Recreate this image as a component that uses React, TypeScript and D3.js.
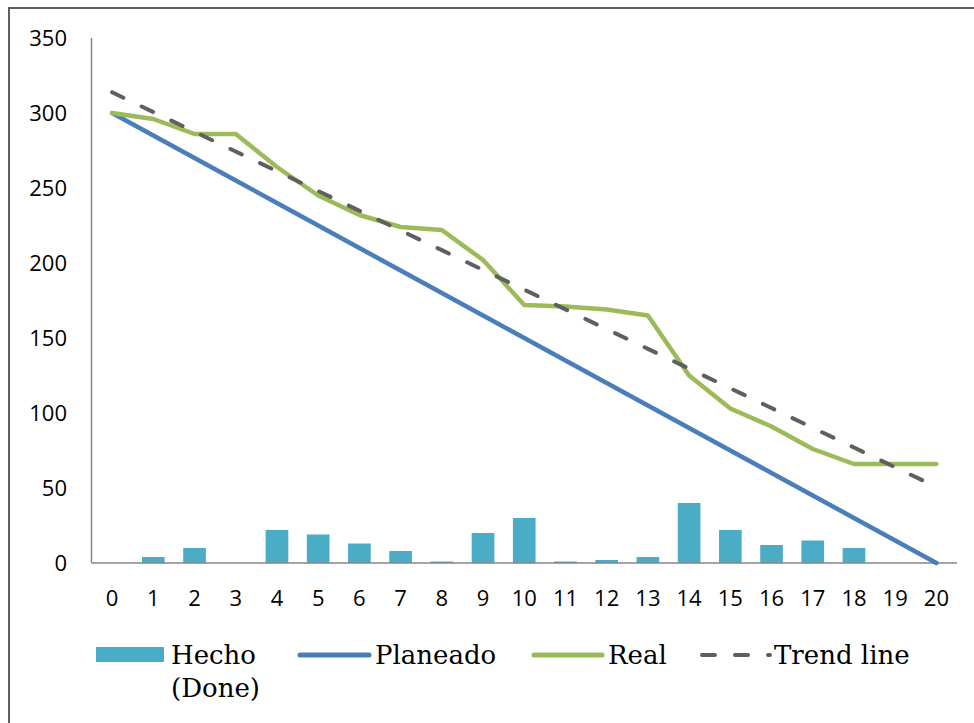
import React from "react";
import * as d3 from "d3";

const categories = ["0","1","2","3","4","5","6","7","8","9","10","11","12","13","14","15","16","17","18","19","20"];
const hecho = [0, 4, 10, 0, 22, 19, 13, 8, 1, 20, 30, 1, 2, 4, 40, 22, 12, 15, 10, 0, 0];
const planeado = [300, 285, 270, 255, 240, 225, 210, 195, 180, 165, 150, 135, 120, 105, 90, 75, 60, 45, 30, 15, 0];
const real = [300, 296, 286, 286, 264, 245, 232, 224, 222, 202, 172, 171, 169, 165, 125, 103, 91, 76, 66, 66, 66];
const yTicks = [0, 50, 100, 150, 200, 250, 300, 350];
const legendLabels = ["Hecho", "(Done)", "Planeado", "Real", "Trend line"];

// Linear least-squares trend of the "Real" series (as Excel's linear trendline)
function trend(values: number[]): number[] {
  const n = values.length;
  const xs = values.map((_, i) => i);
  const mx = d3.mean(xs)!;
  const my = d3.mean(values)!;
  let sxy = 0, sxx = 0;
  for (let i = 0; i < n; i++) {
    sxy += (xs[i] - mx) * (values[i] - my);
    sxx += (xs[i] - mx) ** 2;
  }
  const b = sxy / sxx;
  const a = my - b * mx;
  return xs.map((x) => a + b * x);
}

const W = 974, H = 723;
const left = 91.5, right = 957, top = 38, bottom = 563;

export default function App() {
  const x = d3.scaleBand<string>().domain(categories).range([left, right]).paddingInner(0.45).paddingOuter(0.225);
  const xp = d3.scalePoint<string>().domain(categories).range([left + (right - left) / 42, right - (right - left) / 42]);
  const y = d3.scaleLinear().domain([0, 350]).range([bottom, top]);
  const trendVals = trend(real);

  const line = (vals: number[]) =>
    d3.line<number>().x((_, i) => xp(categories[i])!).y((v) => y(v))(vals)!;

  const sans = "'Open Sans', 'Liberation Sans', sans-serif";
  const serif = "'DejaVu Serif', serif";

  return (
    <svg width={W} height={H} style={{ position: "absolute", left: 0, top: 0, background: "#fff" }}>
      <rect x={9} y={8} width={W + 20} height={H + 20} fill="#fff" stroke="#5f5f5f" strokeWidth={2} />
      {/* bars */}
      {hecho.map((v, i) =>
        v > 0 ? (
          <rect key={i} x={x(categories[i])!} y={y(v)} width={x.bandwidth()} height={y(0) - y(v)} fill="#4BACC6" />
        ) : null
      )}
      {/* axes */}
      <line x1={left} x2={left} y1={top} y2={bottom} stroke="#868686" strokeWidth={1.5} />
      <line x1={left} x2={right} y1={bottom} y2={bottom} stroke="#868686" strokeWidth={1.5} />
      {yTicks.map((t) => (
        <text key={t} x={67} y={y(t) + 8} textAnchor="end" fontFamily={sans} fontSize={22} fill="#000">
          {t}
        </text>
      ))}
      {categories.map((c) => (
        <text key={c} x={xp(c)!} y={606} textAnchor="middle" fontFamily={sans} fontSize={22} fill="#000">
          {c}
        </text>
      ))}
      {/* lines */}
      <path d={line(planeado)} fill="none" stroke="#4A7EBB" strokeWidth={4.5} strokeLinecap="round" strokeLinejoin="round" />
      <path d={line(real)} fill="none" stroke="#9BBB59" strokeWidth={4.5} strokeLinecap="round" strokeLinejoin="round" />
      <path d={line(trendVals)} fill="none" stroke="#5F5F5F" strokeWidth={4} strokeLinecap="round" strokeDasharray="12.5 20.3" />
      {/* legend */}
      <rect x={96} y={647} width={68} height={15} fill="#4BACC6" />
      <text x={171} y={664} fontFamily={serif} fontSize={26} fill="#000">{legendLabels[0]}</text>
      <text x={171} y={697} fontFamily={serif} fontSize={26} fill="#000">{legendLabels[1]}</text>
      <line x1={300} x2={369} y1={655} y2={655} stroke="#4A7EBB" strokeWidth={5} strokeLinecap="round" />
      <text x={375} y={664} fontFamily={serif} fontSize={26} fill="#000">{legendLabels[2]}</text>
      <line x1={534} x2={602} y1={655} y2={655} stroke="#9BBB59" strokeWidth={5} strokeLinecap="round" />
      <text x={608} y={664} fontFamily={serif} fontSize={26} fill="#000">{legendLabels[3]}</text>
      <line x1={702} x2={770} y1={655} y2={655} stroke="#5F5F5F" strokeWidth={4} strokeLinecap="round" strokeDasharray="13 20" />
      <text x={774} y={664} fontFamily={serif} fontSize={26} fill="#000">{legendLabels[4]}</text>
    </svg>
  );
}
